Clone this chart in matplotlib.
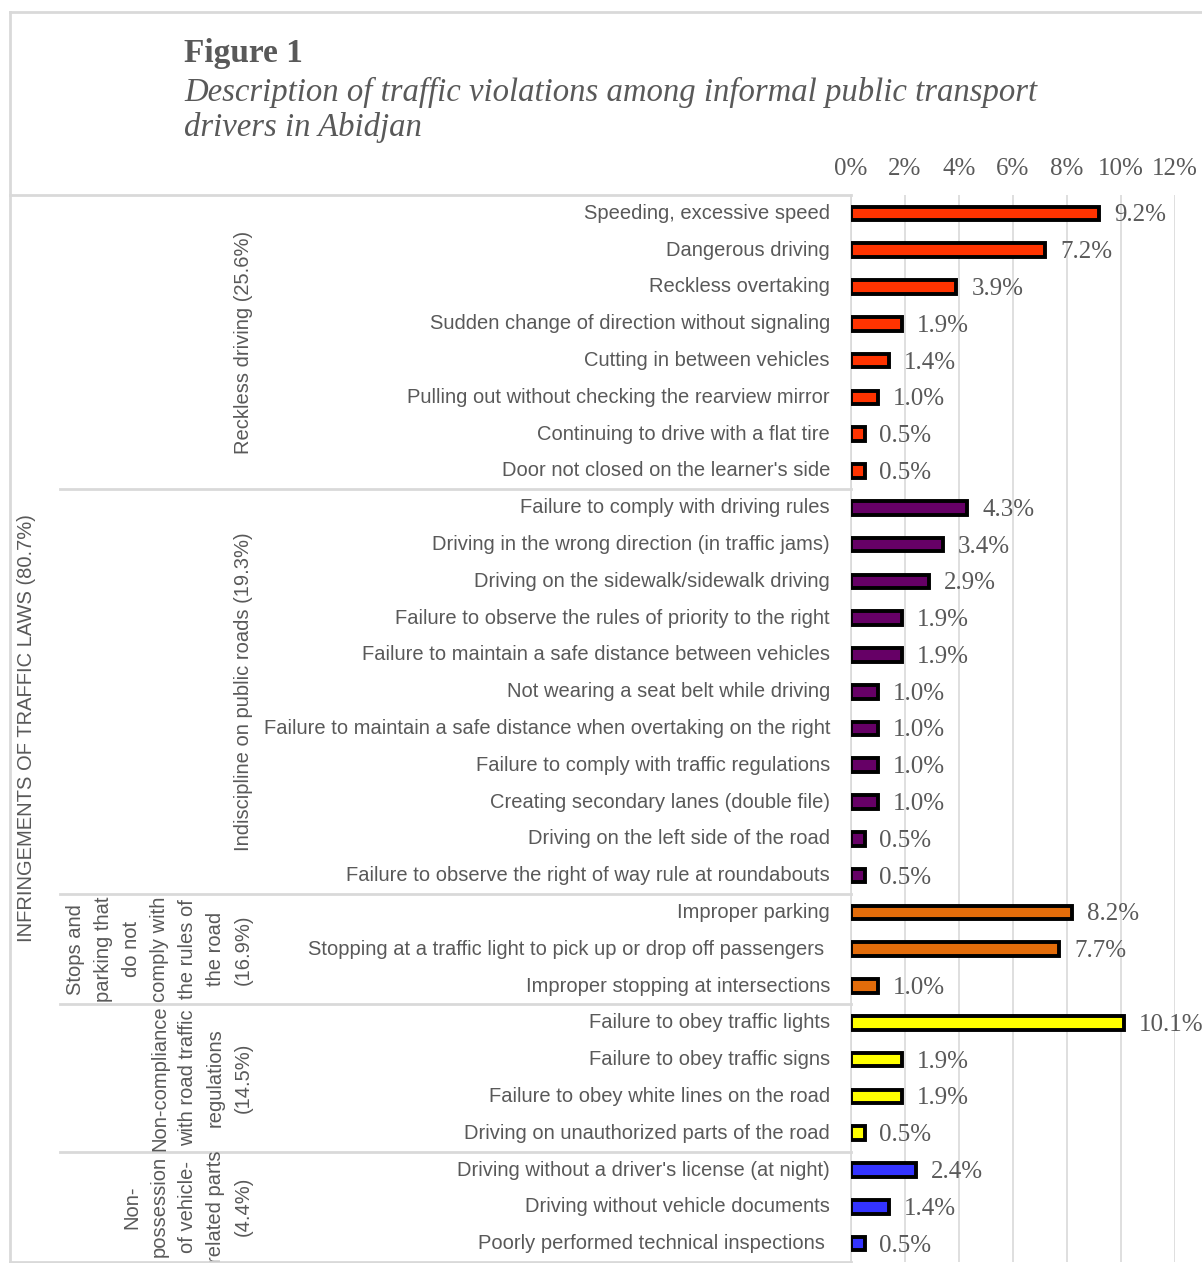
import matplotlib
matplotlib.use("Agg")
import matplotlib.pyplot as plt
from matplotlib.lines import Line2D
from matplotlib.transforms import offset_copy

# data
categories = [
    "Speeding, excessive speed",
    "Dangerous driving",
    "Reckless overtaking",
    "Sudden change of direction without signaling",
    "Cutting in between vehicles",
    "Pulling out without checking the rearview mirror",
    "Continuing to drive with a flat tire",
    "Door not closed on the learner's side",
    "Failure to comply with driving rules",
    "Driving in the wrong direction (in traffic jams)",
    "Driving on the sidewalk/sidewalk driving",
    "Failure to observe the rules of priority to the right",
    "Failure to maintain a safe distance between vehicles",
    "Not wearing a seat belt while driving",
    "Failure to maintain a safe distance when overtaking on the right",
    "Failure to comply with traffic regulations",
    "Creating secondary lanes (double file)",
    "Driving on the left side of the road",
    "Failure to observe the right of way rule at roundabouts",
    "Improper parking",
    "Stopping at a traffic light to pick up or drop off passengers ",
    "Improper stopping at intersections",
    "Failure to obey traffic lights",
    "Failure to obey traffic signs",
    "Failure to obey white lines on the road",
    "Driving on unauthorized parts of the road",
    "Driving without a driver's license (at night)",
    "Driving without vehicle documents",
    "Poorly performed technical inspections ",
]
values = [9.2, 7.2, 3.9, 1.9, 1.4, 1.0, 0.5, 0.5,
          4.3, 3.4, 2.9, 1.9, 1.9, 1.0, 1.0, 1.0, 1.0, 0.5, 0.5,
          8.2, 7.7, 1.0,
          10.1, 1.9, 1.9, 0.5,
          2.4, 1.4, 0.5]
group_names = [
    "Reckless driving (25.6%)",
    "Indiscipline on public roads (19.3%)",
    "Stops and\nparking that\ndo not\ncomply with\nthe rules of\nthe road\n(16.9%)",
    "Non-compliance\nwith road traffic\nregulations\n(14.5%)",
    "Non-\npossession\nof vehicle-\nrelated parts\n(4.4%)",
]
group_sizes = [8, 11, 3, 4, 3]
group_colors = ["#FF3300", "#660066", "#E36C0A", "#FFFF00", "#3333FF"]
top_label = "INFRINGEMENTS OF TRAFFIC LAWS (80.7%)"
xticks = [0, 2, 4, 6, 8, 10, 12]

TXT = "#595959"
GRID = "#D9D9D9"
SANS = ["Liberation Sans", "DejaVu Sans"]
SERIF = ["Liberation Serif", "DejaVu Serif"]

W, H = 1202, 1263
fig = plt.figure(figsize=(W / 100, H / 100), dpi=100)

def fx(px):
    return px / W

def fy(py):
    return 1 - py / H

x0, x1, y0, y1 = 851, 1175, 195, 1262
ax = fig.add_axes([fx(x0), fy(y1), fx(x1) - fx(x0), fy(y0) - fy(y1)])

colors = []
for c, n in zip(group_colors, group_sizes):
    colors += [c] * n
ypos = list(range(len(values)))

ax.barh(ypos, values, height=0.37, color=colors, edgecolor="black", linewidth=2.8, zorder=3)
ax.set_ylim(len(values) - 0.5, -0.5)
ax.set_xlim(0, 12)

ax.xaxis.tick_top()
ax.set_xticks(xticks)
ax.set_xticklabels([f"{t}%" for t in xticks], fontsize=18, color=TXT, family=SERIF)
ax.tick_params(axis="x", length=0, pad=11)
ax.set_yticks([])
ax.grid(axis="x", color=GRID, linewidth=1.2, zorder=0)
for s in ["top", "right", "bottom"]:
    ax.spines[s].set_visible(False)
ax.spines["left"].set_color(GRID)
ax.spines["left"].set_linewidth(1.2)

# value labels
for y, v in zip(ypos, values):
    tr = offset_copy(ax.transData, fig=fig, x=15, y=-2, units="dots")
    ax.text(v, y, f"{v:.1f}%", transform=tr, ha="left", va="center",
            fontsize=18, color=TXT, family=SERIF, clip_on=False)

# category labels
ytr = ax.get_yaxis_transform()
def axx(px):
    return (px - x0) / (x1 - x0)

for y, c in zip(ypos, categories):
    ax.text(axx(830), y, c, transform=ytr, ha="right", va="center",
            fontsize=14.5, color=TXT, family=SANS)

# group labels and separators
start = 0
for name, n in zip(group_names, group_sizes):
    mid = start + (n - 1) / 2
    ax.text(axx(253), mid, name, transform=ytr, rotation=90, ha="right", va="center",
            multialignment="center", linespacing=1.6, fontsize=14.5, color=TXT, family=SANS)
    if start > 0:
        ax.add_line(Line2D([axx(60), 0], [start - 0.5, start - 0.5], transform=ytr,
                           color=GRID, linewidth=2, clip_on=False))
    start += n

ax.text(axx(27), (len(values) - 1) / 2, top_label, transform=ytr, rotation=90,
        ha="center", va="center", fontsize=14.5, color=TXT, family=SANS)

# frame lines
def fline(xs, ys):
    fig.add_artist(Line2D([fx(x) for x in xs], [fy(y) for y in ys], color=GRID, linewidth=2))

fline([10, W], [12, 12])
fline([10, 10], [12, 1262])
fline([10, 851], [195, 195])
fline([10, 851], [1262, 1262])

# title
fig.text(fx(184), fy(62), "Figure 1", fontsize=24, fontweight="bold", color=TXT,
         family=SERIF, va="baseline")
fig.text(fx(184), fy(101), "Description of traffic violations among informal public transport",
         fontsize=23.6, style="italic", color=TXT, family=SERIF, va="baseline")
fig.text(fx(184), fy(136), "drivers in Abidjan", fontsize=23.6, style="italic", color=TXT,
         family=SERIF, va="baseline")

fig.savefig("out.png", dpi=100)
